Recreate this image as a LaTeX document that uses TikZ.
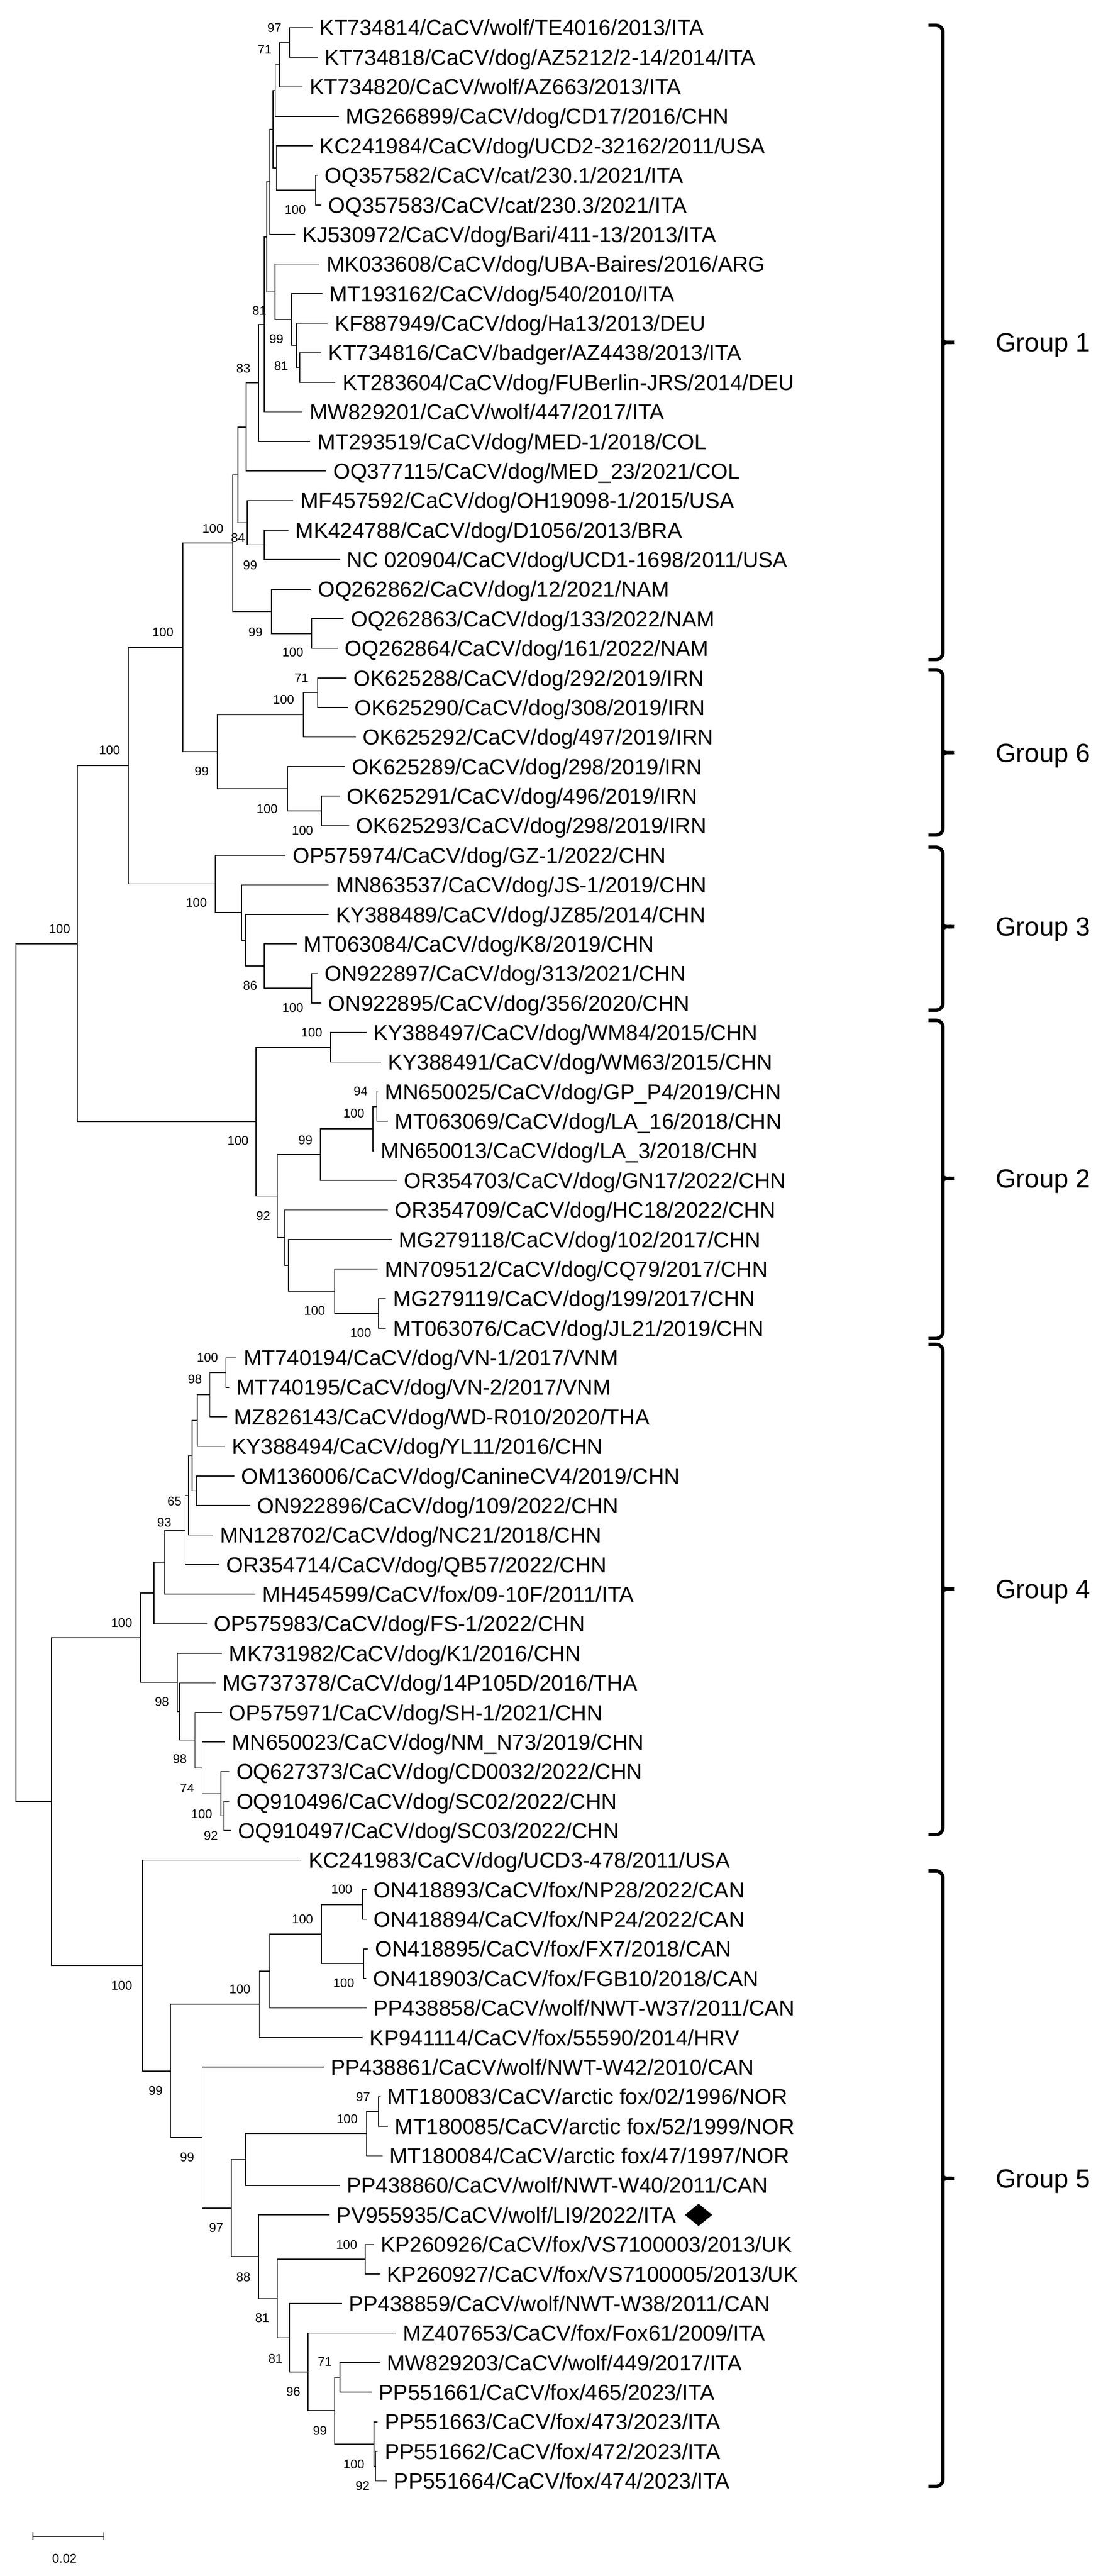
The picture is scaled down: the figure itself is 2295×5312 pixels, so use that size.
\documentclass[tikz,border=0pt]{standalone}
\usepackage{fontspec}
\setmainfont{Liberation Sans}
\usetikzlibrary{calc}
\tikzset{
 br/.style={line width=0.5pt,black},
 leaflab/.style={anchor=west,font=\fontsize{12.75}{14}\selectfont,inner xsep=0.14cm,inner ysep=0pt,text height=9.2pt,text depth=0pt},
 bsl/.style={font=\fontsize{7.4}{8}\selectfont,inner sep=0pt,text height=5.3pt,text depth=0pt},
 grp/.style={font=\fontsize{15.4}{17}\selectfont,inner sep=0pt,text height=11pt,text depth=0pt},
 bracepath/.style={line width=2pt,rounded corners=4pt}
}
\newcommand\lf[3]{\coordinate (L#1) at (#2,{57+(#1-1)*60.95}); \node[leaflab] (T#1) at (L#1) {#3};}
\newcommand\nd[4]{\coordinate (m#1) at ($(#3)!0.5!(#4)$); \coordinate (x#1) at (#2,0); \coordinate (#1) at (m#1 -| x#1); \draw[br] (#3) -| (#1) |- (#4);}
\newcommand\bs[4]{\node[bsl] (#1) at (#2,#3) {#4};}
\newcommand\grpbrace[5]{\draw[bracepath] (1915,#2) -- (1945,#2) -- (1945,#3-8) to[out=-90,in=180,looseness=0.6] (1968,#3) (1968,#3) to[out=180,in=90,looseness=0.6] (1945,#3+8) -- (1945,#4) -- (1915,#4);
 \node[grp,anchor=west] (#1) at (2053,#3) {#5};}
\begin{document}
\begin{tikzpicture}[x=0.01cm,y=-0.01cm]
\useasboundingbox (0,0) rectangle (2295,5312);
\lf{1}{645}{KT734814/CaCV/wolf/TE4016/2013/ITA}
\lf{2}{655}{KT734818/CaCV/dog/AZ5212/2-14/2014/ITA}
\lf{3}{624}{KT734820/CaCV/wolf/AZ663/2013/ITA}
\lf{4}{699}{MG266899/CaCV/dog/CD17/2016/CHN}
\lf{5}{645}{KC241984/CaCV/dog/UCD2-32162/2011/USA}
\lf{6}{655}{OQ357582/CaCV/cat/230.1/2021/ITA}
\lf{7}{663}{OQ357583/CaCV/cat/230.3/2021/ITA}
\lf{8}{609}{KJ530972/CaCV/dog/Bari/411-13/2013/ITA}
\lf{9}{659}{MK033608/CaCV/dog/UBA-Baires/2016/ARG}
\lf{10}{665}{MT193162/CaCV/dog/540/2010/ITA}
\lf{11}{676}{KF887949/CaCV/dog/Ha13/2013/DEU}
\lf{12}{663}{KT734816/CaCV/badger/AZ4438/2013/ITA}
\lf{13}{692}{KT283604/CaCV/dog/FUBerlin-JRS/2014/DEU}
\lf{14}{624}{MW829201/CaCV/wolf/447/2017/ITA}
\lf{15}{640}{MT293519/CaCV/dog/MED-1/2018/COL}
\lf{16}{673}{OQ377115/CaCV/dog/MED\_23/2021/COL}
\lf{17}{605}{MF457592/CaCV/dog/OH19098-1/2015/USA}
\lf{18}{595}{MK424788/CaCV/dog/D1056/2013/BRA}
\lf{19}{701}{NC 020904/CaCV/dog/UCD1-1698/2011/USA}
\lf{20}{641}{OQ262862/CaCV/dog/12/2021/NAM}
\lf{21}{709}{OQ262863/CaCV/dog/133/2022/NAM}
\lf{22}{697}{OQ262864/CaCV/dog/161/2022/NAM}
\lf{23}{715}{OK625288/CaCV/dog/292/2019/IRN}
\lf{24}{717}{OK625290/CaCV/dog/308/2019/IRN}
\lf{25}{734}{OK625292/CaCV/dog/497/2019/IRN}
\lf{26}{711}{OK625289/CaCV/dog/298/2019/IRN}
\lf{27}{701}{OK625291/CaCV/dog/496/2019/IRN}
\lf{28}{720}{OK625293/CaCV/dog/298/2019/IRN}
\lf{29}{589}{OP575974/CaCV/dog/GZ-1/2022/CHN}
\lf{30}{678}{MN863537/CaCV/dog/JS-1/2019/CHN}
\lf{31}{678}{KY388489/CaCV/dog/JZ85/2014/CHN}
\lf{32}{612}{MT063084/CaCV/dog/K8/2019/CHN}
\lf{33}{655}{ON922897/CaCV/dog/313/2021/CHN}
\lf{34}{663}{ON922895/CaCV/dog/356/2020/CHN}
\lf{35}{756}{KY388497/CaCV/dog/WM84/2015/CHN}
\lf{36}{786}{KY388491/CaCV/dog/WM63/2015/CHN}
\lf{37}{779}{MN650025/CaCV/dog/GP\_P4/2019/CHN}
\lf{38}{800}{MT063069/CaCV/dog/LA\_16/2018/CHN}
\lf{39}{771}{MN650013/CaCV/dog/LA\_3/2018/CHN}
\lf{40}{819}{OR354703/CaCV/dog/GN17/2022/CHN}
\lf{41}{800}{OR354709/CaCV/dog/HC18/2022/CHN}
\lf{42}{808}{MG279118/CaCV/dog/102/2017/CHN}
\lf{43}{779}{MN709512/CaCV/dog/CQ79/2017/CHN}
\lf{44}{796}{MG279119/CaCV/dog/199/2017/CHN}
\lf{45}{796}{MT063076/CaCV/dog/JL21/2019/CHN}
\lf{46}{488}{MT740194/CaCV/dog/VN-1/2017/VNM}
\lf{47}{473}{MT740195/CaCV/dog/VN-2/2017/VNM}
\lf{48}{468}{MZ826143/CaCV/dog/WD-R010/2020/THA}
\lf{49}{464}{KY388494/CaCV/dog/YL11/2016/CHN}
\lf{50}{483}{OM136006/CaCV/dog/CanineCV4/2019/CHN}
\lf{51}{516}{ON922896/CaCV/dog/109/2022/CHN}
\lf{52}{439}{MN128702/CaCV/dog/NC21/2018/CHN}
\lf{53}{452}{OR354714/CaCV/dog/QB57/2022/CHN}
\lf{54}{527}{MH454599/CaCV/fox/09-10F/2011/ITA}
\lf{55}{427}{OP575983/CaCV/dog/FS-1/2022/CHN}
\lf{56}{458}{MK731982/CaCV/dog/K1/2016/CHN}
\lf{57}{445}{MG737378/CaCV/dog/14P105D/2016/THA}
\lf{58}{458}{OP575971/CaCV/dog/SH-1/2021/CHN}
\lf{59}{464}{MN650023/CaCV/dog/NM\_N73/2019/CHN}
\lf{60}{473}{OQ627373/CaCV/dog/CD0032/2022/CHN}
\lf{61}{473}{OQ910496/CaCV/dog/SC02/2022/CHN}
\lf{62}{477}{OQ910497/CaCV/dog/SC03/2022/CHN}
\lf{63}{622}{KC241983/CaCV/dog/UCD3-478/2011/USA}
\lf{64}{756}{ON418893/CaCV/fox/NP28/2022/CAN}
\lf{65}{756}{ON418894/CaCV/fox/NP24/2022/CAN}
\lf{66}{759}{ON418895/CaCV/fox/FX7/2018/CAN}
\lf{67}{755}{ON418903/CaCV/fox/FGB10/2018/CAN}
\lf{68}{756}{PP438858/CaCV/wolf/NWT-W37/2011/CAN}
\lf{69}{748}{KP941114/CaCV/fox/55590/2014/HRV}
\lf{70}{668}{PP438861/CaCV/wolf/NWT-W42/2010/CAN}
\lf{71}{785}{MT180083/CaCV/arctic fox/02/1996/NOR}
\lf{72}{800}{MT180085/CaCV/arctic fox/52/1999/NOR}
\lf{73}{789}{MT180084/CaCV/arctic fox/47/1997/NOR}
\lf{74}{701}{PP438860/CaCV/wolf/NWT-W40/2011/CAN}
\lf{75}{680}{PV955935/CaCV/wolf/LI9/2022/ITA}
\lf{76}{771}{KP260926/CaCV/fox/VS7100003/2013/UK}
\lf{77}{784}{KP260927/CaCV/fox/VS7100005/2013/UK}
\lf{78}{705}{PP438859/CaCV/wolf/NWT-W38/2011/CAN}
\lf{79}{817}{MZ407653/CaCV/fox/Fox61/2009/ITA}
\lf{80}{784}{MW829203/CaCV/wolf/449/2017/ITA}
\lf{81}{767}{PP551661/CaCV/fox/465/2023/ITA}
\lf{82}{779}{PP551663/CaCV/fox/473/2023/ITA}
\lf{83}{779}{PP551662/CaCV/fox/472/2023/ITA}
\lf{84}{798}{PP551664/CaCV/fox/474/2023/ITA}
% internal nodes
\nd{a12}{597}{L1}{L2}
\nd{a13}{577}{a12}{L3}
\nd{a14}{568}{a13}{L4}
\nd{a67}{651}{L6}{L7}
\nd{a57}{570}{L5}{a67}
\nd{a17}{563}{a14}{a57}
\nd{a18}{557}{a17}{L8}
\nd{a1213}{618}{L12}{L13}
\nd{a1113}{612}{L11}{a1213}
\nd{a1013}{601}{L10}{a1113}
\nd{a913}{567}{L9}{a1013}
\nd{a113}{550}{a18}{a913}
\nd{a114}{545}{a113}{L14}
\nd{a115}{533}{a114}{L15}
\nd{a116}{508}{a115}{L16}
\nd{a1819}{545}{L18}{L19}
\nd{a1719}{510}{L17}{a1819}
\nd{a119}{491}{a116}{a1719}
\nd{a2122}{643}{L21}{L22}
\nd{a2022}{560}{L20}{a2122}
\nd{a122}{480}{a119}{a2022}
\nd{a2324}{655}{L23}{L24}
\nd{a2325}{626}{a2324}{L25}
\nd{a2728}{663}{L27}{L28}
\nd{a2628}{593}{L26}{a2728}
\nd{a2328}{448}{a2325}{a2628}
\nd{a128}{377}{a122}{a2328}
\nd{a3334}{643}{L33}{L34}
\nd{a3234}{545}{L32}{a3334}
\nd{a3134}{507}{L31}{a3234}
\nd{a3034}{498}{L30}{a3134}
\nd{a2934}{444}{L29}{a3034}
\nd{a134}{265}{a128}{a2934}
\nd{a3536}{682}{L35}{L36}
\nd{a3738}{777}{L37}{L38}
\nd{a3739}{769}{a3738}{L39}
\nd{a3740}{661}{a3739}{L40}
\nd{a4445}{781}{L44}{L45}
\nd{a4345}{690}{L43}{a4445}
\nd{a4245}{595}{L42}{a4345}
\nd{a4145}{587}{L41}{a4245}
\nd{a3745}{572}{a3740}{a4145}
\nd{a3545}{528}{a3536}{a3745}
\nd{a145}{160}{a134}{a3545}
\nd{a4647}{466}{L46}{L47}
\nd{a4648}{433}{a4647}{L48}
\nd{a4649}{407}{a4648}{L49}
\nd{a5051}{405}{L50}{L51}
\nd{a4651}{396}{a4649}{a5051}
\nd{a4652}{389}{a4651}{L52}
\nd{a4653}{382}{a4652}{L53}
\nd{a4654}{340}{a4653}{L54}
\nd{a4655}{318}{a4654}{L55}
\nd{a6162}{462}{L61}{L62}
\nd{a6062}{456}{L60}{a6162}
\nd{a5962}{417}{L59}{a6062}
\nd{a5862}{402}{L58}{a5962}
\nd{a5762}{371}{L57}{a5862}
\nd{a5662}{366}{L56}{a5762}
\nd{a4662}{290}{a4655}{a5662}
\nd{a6465}{748}{L64}{L65}
\nd{a6667}{750}{L66}{L67}
\nd{a6467}{663}{a6465}{a6667}
\nd{a6468}{556}{a6467}{L68}
\nd{a6469}{535}{a6468}{L69}
\nd{a7172}{781}{L71}{L72}
\nd{a7173}{756}{a7172}{L73}
\nd{a7174}{507}{a7173}{L74}
\nd{a7677}{753}{L76}{L77}
\nd{a8081}{701}{L80}{L81}
\nd{a8384}{775}{L83}{L84}
\nd{a8284}{771}{L82}{a8384}
\nd{a8084}{690}{a8081}{a8284}
\nd{a7984}{635}{L79}{a8084}
\nd{a7884}{597}{L78}{a7984}
\nd{a7684}{572}{a7677}{a7884}
\nd{a7584}{533}{L75}{a7684}
\nd{a7184}{477}{a7174}{a7584}
\nd{a7084}{417}{L70}{a7184}
\nd{a6484}{352}{a6469}{a7084}
\nd{a6384}{294}{L63}{a6484}
\nd{a4684}{106}{a4662}{a6384}
\nd{root}{33}{a145}{a4684}
% bootstrap values
\bs{b1}{566}{57}{97}
\bs{b2}{546}{102}{71}
\bs{b3}{609}{432}{100}
\bs{b4}{535}{640}{81}
\bs{b5}{570}{699}{99}
\bs{b6}{580}{754}{81}
\bs{b7}{502}{759}{83}
\bs{b8}{439}{1090}{100}
\bs{b9}{491}{1109}{84}
\bs{b10}{516}{1165}{99}
\bs{b11}{527}{1303}{99}
\bs{b12}{604}{1345}{100}
\bs{b13}{622}{1398}{71}
\bs{b14}{585}{1442}{100}
\bs{b15}{551}{1668}{100}
\bs{b16}{624}{1712}{100}
\bs{b17}{416}{1590}{99}
\bs{b18}{336}{1303}{100}
\bs{b19}{226}{1547}{100}
\bs{b20}{123}{1915}{100}
\bs{b21}{405}{1861}{100}
\bs{b22}{516}{2032}{86}
\bs{b23}{604}{2078}{100}
\bs{b24}{643}{2129}{100}
\bs{b25}{744}{2250}{94}
\bs{b26}{730}{2296}{100}
\bs{b27}{630}{2351}{99}
\bs{b28}{491}{2352}{100}
\bs{b29}{543}{2507}{92}
\bs{b30}{649}{2702}{100}
\bs{b31}{744}{2748}{100}
\bs{b32}{428}{2799}{100}
\bs{b33}{402}{2844}{98}
\bs{b34}{360}{3096}{65}
\bs{b35}{339}{3139}{93}
\bs{b36}{251}{3346}{100}
\bs{b37}{334}{3509}{98}
\bs{b38}{371}{3627}{98}
\bs{b39}{386}{3687}{74}
\bs{b40}{416}{3740}{100}
\bs{b41}{435}{3785}{92}
\bs{b42}{705}{3895}{100}
\bs{b43}{624}{3957}{100}
\bs{b44}{709}{4089}{100}
\bs{b45}{495}{4102}{100}
\bs{b46}{251}{4094}{100}
\bs{b47}{321}{4311}{99}
\bs{b48}{749}{4324}{97}
\bs{b49}{716}{4369}{100}
\bs{b50}{386}{4448}{99}
\bs{b51}{446}{4593}{97}
\bs{b52}{715}{4629}{100}
\bs{b53}{502}{4695}{88}
\bs{b54}{541}{4779}{81}
\bs{b55}{568}{4863}{81}
\bs{b56}{670}{4870}{71}
\bs{b57}{605}{4931}{96}
\bs{b58}{660}{5012}{99}
\bs{b59}{730}{5081}{100}
\bs{b60}{748}{5126}{92}
% marker
\fill (T75.east) ++(4,0) coordinate (dmw) -- ++(28,-23) -- ++(28,23) -- ++(-28,23) -- cycle;
% groups
\grpbrace{g1}{52}{706}{1360}{Group 1}
\grpbrace{g6}{1381}{1552}{1722}{Group 6}
\grpbrace{g3}{1747}{1911}{2083}{Group 3}
\grpbrace{g2}{2104}{2430}{2760}{Group 2}
\grpbrace{g4}{2772}{3277}{3783}{Group 4}
\grpbrace{g5}{3858}{4492}{5127}{Group 5}
% scale bar
\coordinate (sb1) at (68,5230); \coordinate (sb2) at (214,5230);
\draw[br] (sb1) -- (sb2) (68,5222) -- (68,5238) (214,5222) -- (214,5238);
\node[bsl] (sbl) at (133,5275) {0.02};
\end{tikzpicture}
\end{document}
